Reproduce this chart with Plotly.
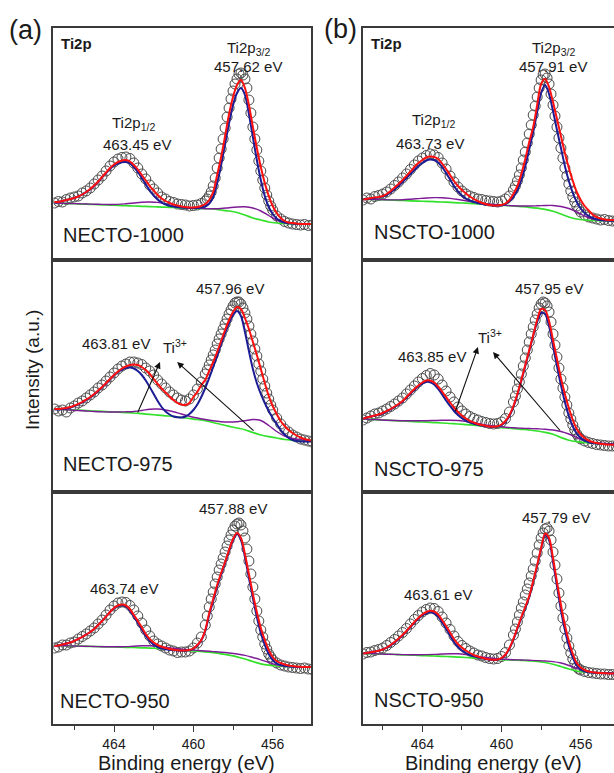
import plotly.graph_objects as go

# ---------------- data (heights in arbitrary intensity units) ----------------
energy_line = [467.0, 466.8, 466.6, 466.4, 466.2, 466.0, 465.8, 465.6, 465.4, 465.2,
               465.0, 464.8, 464.6, 464.4, 464.2, 464.0, 463.8, 463.6, 463.4, 463.2,
               463.0, 462.8, 462.6, 462.4, 462.2, 462.0, 461.8, 461.6, 461.4, 461.2,
               461.0, 460.8, 460.6, 460.4, 460.2, 460.0, 459.8, 459.6, 459.4, 459.2,
               459.0, 458.8, 458.6, 458.4, 458.2, 458.0, 457.8, 457.6, 457.4, 457.2,
               457.0, 456.8, 456.6, 456.4, 456.2, 456.0, 455.8, 455.6, 455.4, 455.2,
               455.0, 454.8, 454.6, 454.4, 454.2, 454.0]

energy_bg = [467.0, 466.6, 466.2, 465.8, 465.4, 465.0, 464.6, 464.2, 463.8, 463.4,
             463.0, 462.6, 462.2, 461.8, 461.4, 461.0, 460.6, 460.2, 459.8, 459.4,
             459.0, 458.6, 458.2, 457.8, 457.4, 457.0, 456.6, 456.2, 455.8, 455.4,
             455.0, 454.6, 454.2]

energy_data = [467.0, 466.8, 466.6, 466.4, 466.2, 466.0, 465.8, 465.6, 465.4, 465.2,
               465.0, 464.8, 464.6, 464.4, 464.2, 464.0, 463.8, 463.6, 463.4, 463.2,
               463.0, 462.8, 462.6, 462.4, 462.2, 462.0, 461.8, 461.6, 461.4, 461.2,
               461.0, 460.8, 460.6, 460.4, 460.2, 460.0, 459.8, 459.6,
               459.4, 459.3, 459.2, 459.1, 459.0, 458.9, 458.8, 458.7, 458.6, 458.5,
               458.4, 458.3, 458.2, 458.1, 458.0, 457.9, 457.8, 457.7, 457.6, 457.5,
               457.4, 457.3, 457.2, 457.1, 457.0, 456.9, 456.8, 456.7, 456.6, 456.5,
               456.4, 456.3, 456.2, 456.1, 456.0,
               455.8, 455.6, 455.4, 455.2, 455.0, 454.8, 454.6, 454.4, 454.2, 454.0]

x_major_ticks = [464, 460, 456]
x_minor_ticks = [466, 462, 458, 454]

# ---- NECTO-1000 ----
necto1000_data = [57, 58.5, 58, 60.5, 62, 63, 64, 67, 69, 72,
                  76, 80, 84, 89, 94, 98, 101, 102.5, 103, 101.5,
                  97, 92, 86, 81, 75, 71, 67, 63, 61, 58.5,
                  57.5, 56, 55.5, 55, 54, 54.5, 55, 56.5,
                  59, 61, 64, 68, 74, 82, 92, 102, 111, 121,
                  132, 143, 152, 161, 169, 176, 181, 186, 187, 185,
                  181, 172, 160, 147, 133, 121, 110, 99, 89, 80,
                  72, 65, 59, 54, 50,
                  44, 41, 38.5, 37, 36, 35.5, 35, 35.5, 34.5, 35]
necto1000_fit = [58, 58, 59, 60, 61, 62, 63.5, 65.5, 68, 71,
                 74.5, 78.5, 83, 87.5, 92, 95.5, 98, 99.5, 100, 98.5,
                 95, 90.5, 85, 79.5, 74, 69.5, 65, 61.5, 59, 57,
                 55.5, 54.5, 53.5, 53, 52.5, 52.5, 53, 54, 56, 60,
                 68, 85, 103, 124, 146, 163, 175, 180, 172, 155,
                 133, 112, 93, 77, 64, 54, 47, 42, 39, 37.5,
                 37, 36.5, 36, 36, 36, 36]
necto1000_ti4 = [57.5, 58, 59, 60, 61, 62, 63.5, 65.5, 68, 70.5,
                 74, 78, 82.5, 87, 91, 94.5, 96.5, 97.8, 98, 96.5,
                 93, 88, 82, 75.5, 69.5, 64.5, 60.5, 57.5, 55.5, 54.3,
                 53.5, 53, 52.5, 52.2, 52, 52, 52, 52.4, 53.5, 56.5,
                 63, 77, 95, 116, 137, 155, 167, 172, 165, 146,
                 123, 100, 80, 64, 53, 46, 41.5, 39, 37.5, 36.8,
                 36.5, 36.2, 36, 36, 36, 36]
necto1000_ti3 = [57, 56.8, 56.5, 56.2, 56, 55.8, 55.6, 55.5, 55.6, 56.2,
                 57, 57.8, 58, 57.6, 56, 54, 53, 52.3, 51.8, 51.3,
                 51.2, 51.5, 52.3, 53, 53.2, 52, 49, 44.5, 40, 37.5,
                 36.5, 36, 36]
necto1000_bg = [57, 56.7, 56.4, 56.1, 55.8, 55.5, 55.2, 54.9, 54.6, 54.3,
                54, 53.7, 53.4, 53.1, 52.8, 52.5, 52.2, 51.9, 51.6, 51.3,
                51, 50, 49, 47.5, 45, 42, 40, 38, 37, 36.5,
                36.2, 36, 36]

# ---- NECTO-975 ----
necto975_data = [83, 81, 82, 80, 84, 86, 89, 91, 94, 97,
                 100, 104, 107, 111, 115, 119, 123, 126, 128, 130,
                 130, 129, 127.5, 124, 121, 117, 112, 108, 104, 100,
                 97, 94, 92, 91, 93, 97, 103, 110,
                 118, 122, 127, 132, 137, 142, 148, 153, 158, 163,
                 168, 173, 178, 182, 186, 189, 190, 190, 188, 184,
                 179, 173, 166, 158, 151, 143, 136, 128, 121, 113,
                 106, 99, 93, 87, 82,
                 74, 68, 63, 60, 57, 55, 53, 52, 51, 50]
necto975_fit = [83, 83, 83.5, 84, 85, 86.5, 88, 90, 92.5, 95,
                98, 101.5, 105, 109, 113, 117, 120.5, 123.5, 125.5, 127,
                127.5, 127, 125, 122, 118, 113, 108, 103.5, 99.5, 95.5,
                92, 89, 87.5, 87, 89, 95, 100, 107, 112, 121,
                130, 140, 151, 162, 172, 180, 185, 183, 174, 163,
                150, 137, 123, 109, 96, 86, 78, 71, 66, 62,
                59, 56.5, 54.5, 53, 52, 51.5]
necto975_ti4 = [82.5, 82.5, 83, 83.5, 84.5, 86, 87.5, 89.5, 92, 94.5,
                97.5, 101, 104.5, 108.5, 112.5, 116.5, 120, 122.5, 124, 124.5,
                123.5, 121, 117, 111.5, 105, 98, 91, 85, 80.5, 77.5,
                75.5, 74.8, 74.6, 75.5, 78, 82, 87.5, 95, 104, 114,
                125, 136, 148, 159, 169, 177, 181, 176, 160, 141,
                123, 109, 98, 89, 81, 74, 68, 62, 57.5, 54,
                52, 51, 50.5, 50.5, 50.5, 50.5]
necto975_ti3 = [83, 82.5, 82, 81.5, 81, 80.5, 80.2, 80, 80, 80.2,
                80.5, 81.5, 82.8, 83, 82, 80.3, 78, 75.8, 74, 72.5,
                71.2, 70.3, 70, 70.3, 71.2, 72.5, 71.5, 66.5, 60.5, 56,
                53.5, 52.3, 51.8]
necto975_bg = [83, 82.6, 82.2, 81.8, 81.4, 81, 80.6, 80.2, 79.8, 79.4,
               79, 78.3, 77.6, 76.9, 76.2, 75.5, 74.5, 73.5, 72.5, 71.3,
               69.5, 67.5, 65.7, 64, 62.3, 59.5, 57, 55.3, 54, 52.5,
               51.7, 51.2, 51]

# ---- NECTO-950 ----
necto950_data = [76, 77, 79, 79, 81, 82, 85, 87.5, 90, 93,
                 96, 100, 104, 109, 114, 118, 121, 122, 121.5, 118.5,
                 114, 108, 101, 94, 88, 83, 80, 78, 76, 74,
                 73, 71.5, 72, 72, 73, 76, 81, 87,
                 99, 108, 117, 125, 132, 140, 147, 154, 160, 166,
                 172, 178, 184, 189, 194, 198, 200, 201, 199, 193,
                 186, 175, 163, 150, 137, 125, 113, 103, 94, 87,
                 80, 75, 70, 67, 64,
                 61, 59, 58, 57, 56.5, 56, 55.5, 56, 55, 54.5]
necto950_fit = [78, 78.5, 79.5, 80.5, 81.5, 83, 85, 87, 89.5, 92,
                95, 99, 103, 107.5, 112, 116, 118.5, 119.5, 118.5, 115,
                109, 103, 96.5, 90, 85, 81.5, 79, 77.2, 76, 75,
                74.3, 73.8, 73.5, 73.5, 74, 75.5, 79, 84, 94, 111,
                125, 139, 151, 162, 174, 185, 191, 186, 170, 150,
                130, 112, 96, 84, 74, 67, 63, 61, 59.5, 58.5,
                58, 57.5, 57.2, 57, 57, 57]
necto950_ti4 = [78, 78.5, 79.5, 80.5, 81.5, 83, 85, 87, 89.5, 92,
                95, 99, 103, 107.5, 112, 115.5, 118, 118.8, 117.5, 113.5,
                107.5, 101, 94.5, 88, 83, 79.5, 77, 75.5, 74.8, 74.3,
                73.9, 73.6, 73.3, 73.3, 73.8, 75.2, 78.5, 83.5, 93, 109,
                123, 137, 149.5, 161, 173, 184, 190, 184, 167, 146,
                126, 107, 91, 79, 70, 64, 60.5, 59, 58, 57.6,
                57.3, 57.1, 57, 57, 57, 57]
necto950_ti3 = [78.5, 78.3, 78.1, 77.9, 77.7, 77.5, 77.3, 77.2, 77.2, 77.4,
                77.8, 78.2, 78.3, 77.8, 76.8, 75.7, 74.9, 74.2, 73.6, 73,
                72.4, 71.8, 71, 70, 68.6, 66.5, 64.2, 61.5, 59.2, 58,
                57.5, 57.2, 57]
necto950_bg = [78.5, 78.3, 78.1, 77.9, 77.7, 77.5, 77.3, 77.1, 76.9, 76.7,
               76.5, 76.2, 75.9, 75.5, 75, 74.5, 74, 73.4, 72.8, 72.2,
               71.3, 70.2, 68.8, 67.2, 65, 62.5, 60.2, 58.8, 58, 57.6,
               57.4, 57.2, 57]

# ---- NSCTO-1000 ----
nscto1000_data = [60, 62, 61, 63.5, 64.5, 66, 68, 71, 74.5, 78,
                  82, 86, 90.5, 95, 99, 102, 104.5, 106, 105, 102.5,
                  97, 91, 84, 78, 73, 69, 66, 64, 62.5, 61,
                  60.5, 59.5, 59, 58.5, 58, 59, 61, 64,
                  70, 74, 79, 85, 92, 100, 108, 117, 126, 135,
                  145, 154, 163, 172, 180, 185, 186, 182, 176, 166,
                  155, 144, 133, 122, 112, 102, 92, 84, 76, 69,
                  63, 58, 54, 51, 48,
                  45, 43, 42, 41, 40, 40.5, 39.5, 39, 39, 39]
nscto1000_fit = [60.5, 61, 62, 62.5, 63, 64, 66, 69, 72.5, 76,
                 80, 84, 88.5, 93, 97, 100, 102.5, 103.5, 103, 101,
                 96.5, 91, 85, 79, 74, 70, 66.5, 63.5, 61, 59,
                 57.3, 56, 55, 54.5, 54.5, 55, 56.5, 60, 66, 74,
                 86, 101, 118, 133, 155, 176, 181, 173, 158, 141,
                 124, 107, 92, 79, 68, 60, 54, 49.5, 45.5, 43,
                 41.5, 40.5, 40, 40, 40, 40]
nscto1000_ti4 = [60.5, 61, 61.5, 62, 62.5, 63.5, 65, 67.5, 70.5, 74,
                 78, 82, 86, 90, 94, 97, 99.5, 100.5, 100, 97.5,
                 93, 87, 80.5, 74, 68.5, 64.5, 61.5, 59.5, 58, 57,
                 56.2, 55.6, 55, 54.6, 54.4, 54.6, 55.8, 58.5, 63, 70,
                 80, 94, 111, 128, 148, 167, 175, 166, 149, 130,
                 112, 94, 79, 67, 58, 51.5, 47, 44, 42, 40.8,
                 40, 39.6, 39.4, 39.3, 39.2, 39.2]
nscto1000_ti3 = [61, 60.7, 60.4, 60.2, 60.1, 60.3, 60.8, 61.4, 62, 62.4,
                 62.3, 61.6, 60.5, 59.2, 58, 57, 56, 55.2, 54.6, 54.2,
                 54, 54, 54.2, 54.5, 54.5, 53.5, 51.5, 48, 44, 41,
                 39.7, 39.3, 39.2]
nscto1000_bg = [61, 60.7, 60.4, 60.1, 59.8, 59.5, 59.2, 58.9, 58.6, 58.3,
                58, 57.6, 57.2, 56.8, 56.4, 56, 55.5, 55, 54.5, 54,
                53.4, 52.7, 51.8, 50.6, 48.8, 46, 43, 41, 40, 39.5,
                39.3, 39.2, 39.2]

# ---- NSCTO-975 ----
nscto975_data = [72, 74, 76, 78, 79, 81, 83, 85.5, 88, 91,
                 94, 98, 102, 106, 110, 113.5, 116.5, 118.5, 117, 113,
                 107, 101, 95, 90, 85, 81, 78, 75.5, 73.5, 72,
                 70.5, 69.5, 68.5, 68, 68.5, 70, 73.5, 80,
                 90, 96, 103, 110, 118, 126, 134, 142, 150, 158,
                 165, 172, 178, 184, 188, 190, 189, 186, 180, 170,
                 158, 147, 135, 124, 113, 104, 95, 87, 79, 73,
                 67, 62, 58, 55, 53,
                 51, 49.5, 48.5, 47.5, 47, 46.5, 46, 46, 45.5, 45.5]
nscto975_fit = [73.5, 74.5, 75.5, 76.5, 77.5, 79, 81, 83, 85.5, 88,
                91, 95, 99, 103, 106.5, 109.5, 111.5, 111.5, 109.5, 105.5,
                100.5, 95, 89.5, 84.5, 80, 76.5, 73.5, 71, 69.5, 68,
                67, 66.2, 65.5, 65.3, 65.8, 67.5, 71, 77, 86, 98,
                112, 127, 142, 157, 172, 183, 182, 171, 152, 133,
                114, 98, 84, 72, 63, 57.5, 54, 51.5, 50, 49,
                48.3, 47.8, 47.5, 47.3, 47.2, 47.2]
nscto975_ti4 = [73.5, 74.5, 75.5, 76.3, 77.2, 78.5, 80.5, 82.5, 85, 87.5,
                90.5, 94.3, 98.2, 102, 105.5, 108.3, 110, 109.8, 107.5, 103,
                97.5, 91.5, 86, 81, 77, 73.8, 71.3, 69.5, 68.2, 67.2,
                66.5, 65.8, 65.2, 65, 65.5, 67, 70.3, 76, 85, 97,
                111, 126, 141, 156, 170, 179, 178, 166, 146, 126,
                107, 90, 76, 65.5, 58.5, 54, 51.3, 49.8, 49, 48.5,
                48.2, 48, 47.8, 47.6, 47.5, 47.5]
nscto975_ti3 = [73, 72.6, 72.2, 71.8, 71.5, 71.3, 71.2, 71.2, 71.3, 71.5,
                71.7, 71.8, 71.5, 70.5, 69.2, 67.8, 66.5, 65.5, 64.8, 64.2,
                63.8, 63.5, 63.2, 62.8, 62, 60.5, 58, 54.5, 51.5, 49.6,
                48.7, 48.2, 48]
nscto975_bg = [73, 72.6, 72.2, 71.8, 71.4, 71, 70.6, 70.2, 69.8, 69.4,
               69, 68.5, 68, 67.4, 66.8, 66.2, 65.5, 64.8, 64.1, 63.4,
               62.7, 62, 61, 59.7, 57.8, 54.5, 51.8, 50.3, 49.5, 48.8,
               48.4, 48.1, 48]

# ---- NSCTO-950 ----
nscto950_data = [70, 71.5, 72, 73.5, 74.5, 76, 78.5, 81.5, 84.5, 88,
                 91.5, 95.5, 100, 104.5, 108.5, 112, 114.5, 116, 115.5, 112.5,
                 107, 101, 94.5, 88, 82.5, 78.5, 75.5, 73, 71, 69,
                 68, 66.5, 65.5, 65, 65.5, 67.5, 71.5, 79,
                 89, 95, 102, 109, 116, 122, 129, 135, 141, 148,
                 155, 163, 171, 179, 186, 191, 195, 196, 193, 184,
                 172, 159, 145, 131, 118, 106, 95, 86, 78, 71,
                 65, 61, 57, 55, 54,
                 52.5, 51.5, 51, 50.5, 50, 50, 49.5, 49.5, 49, 49]
nscto950_fit = [70.5, 71, 71.8, 72.5, 73.3, 74.5, 76.5, 79, 82, 85.5,
                89, 93, 97.5, 102, 106, 109.5, 112, 113.3, 112.5, 109.5,
                104, 98, 91.5, 85, 80, 76.5, 73.5, 71, 69, 67.5,
                66.3, 65.3, 64.5, 64.2, 64.5, 66, 69.5, 76, 85, 96,
                107, 117, 128, 143, 159, 176, 190.5, 186, 166, 142,
                119, 99, 83, 70, 61, 56.5, 54, 52.5, 51.8, 51.3,
                51, 50.8, 50.6, 50.5, 50.5, 50.5]
nscto950_ti4 = [70.5, 71, 71.8, 72.5, 73.3, 74.5, 76.3, 78.7, 81.6, 85,
                88.5, 92.5, 97, 101.3, 105.3, 108.5, 110.8, 111.8, 110.7, 107.3,
                101.5, 95.3, 88.5, 82, 77, 73.5, 71, 69, 67.6, 66.5,
                65.7, 65, 64.3, 64, 64.3, 65.7, 69, 75.3, 84.3, 95.3,
                106, 116, 127, 142, 158, 175, 189, 184, 162, 138,
                114, 94, 78, 66.5, 58.5, 54.5, 52.5, 51.7, 51.2, 51,
                50.9, 50.8, 50.7, 50.6, 50.5, 50.5]
nscto950_ti3 = [70.7, 70.4, 70.1, 69.8, 69.6, 69.4, 69.3, 69.3, 69.4, 69.6,
                70, 70.3, 70.2, 69.4, 68.2, 67, 66, 65.2, 64.7, 64.3,
                64, 63.7, 63.4, 63, 62.4, 61, 58.5, 55.5, 53, 51.8,
                51.3, 51.1, 51]
nscto950_bg = [70.7, 70.4, 70.1, 69.8, 69.5, 69.2, 68.9, 68.6, 68.3, 68,
               67.7, 67.3, 66.9, 66.5, 66, 65.5, 65, 64.5, 64.2, 63.9,
               63.6, 63.2, 62.6, 61.5, 59.8, 57.5, 55, 53, 52, 51.4,
               51.1, 51, 51]

sample_names = ["NECTO-1000", "NECTO-975", "NECTO-950",
                "NSCTO-1000", "NSCTO-975", "NSCTO-950"]
peak_32_labels = ["457.62 eV", "457.96 eV", "457.88 eV",
                  "457.91 eV", "457.95 eV", "457.79 eV"]
peak_12_labels = ["463.45 eV", "463.81 eV", "463.74 eV",
                  "463.73 eV", "463.85 eV", "463.61 eV"]

series = [
    (necto1000_data, necto1000_fit, necto1000_ti4, necto1000_ti3, necto1000_bg),
    (necto975_data, necto975_fit, necto975_ti4, necto975_ti3, necto975_bg),
    (necto950_data, necto950_fit, necto950_ti4, necto950_ti3, necto950_bg),
    (nscto1000_data, nscto1000_fit, nscto1000_ti4, nscto1000_ti3, nscto1000_bg),
    (nscto975_data, nscto975_fit, nscto975_ti4, nscto975_ti3, nscto975_bg),
    (nscto950_data, nscto950_fit, nscto950_ti4, nscto950_ti3, nscto950_bg),
]
for s in series:
    assert len(s[0]) == len(energy_data), len(s[0])
    assert len(s[1]) == len(energy_line) and len(s[2]) == len(energy_line), (len(s[1]), len(s[2]))
    assert len(s[3]) == len(energy_bg) and len(s[4]) == len(energy_bg), (len(s[3]), len(s[4]))

# ---------------- layout geometry ----------------
W, H = 614, 773
FONT = "Arial, 'Liberation Sans', Helvetica, sans-serif"
AX = "#3a3a3a"
TXT = "#1a1a1a"


def px(x):
    return x / W


def py(y):
    return 1 - y / H


col_domains = [[px(53.3), px(311.0)], [px(363.3), 1.0]]
col_ranges = [[467.06, 454.07], [466.98, 454.32]]
row_domains = [[py(260), py(28)], [py(492), py(260)], [py(724), py(492)]]

fig = go.Figure()
layout = dict(
    width=W, height=H,
    margin=dict(l=0, r=0, t=0, b=0),
    paper_bgcolor="white", plot_bgcolor="white",
    showlegend=False,
    font=dict(family=FONT, color=TXT),
)

for k in range(6):
    col, row = divmod(k, 3)
    idx = k + 1
    xname = "x" if idx == 1 else f"x{idx}"
    yname = "y" if idx == 1 else f"y{idx}"
    data, fit, ti4, ti3, bg = series[k]
    common = dict(xaxis=xname, yaxis=yname, hoverinfo="skip", showlegend=False)
    fig.add_trace(go.Scatter(x=energy_data, y=data, mode="markers",
                             marker=dict(symbol="circle-open", size=10, color="#4a4a4a",
                                         line=dict(width=1)), **common))
    fig.add_trace(go.Scatter(x=energy_bg, y=bg, mode="lines",
                             line=dict(color="#33e02b", width=1.7, shape="spline"), **common))
    fig.add_trace(go.Scatter(x=energy_bg, y=ti3, mode="lines",
                             line=dict(color="#7d1a96", width=1.4, shape="spline"), **common))
    fig.add_trace(go.Scatter(x=energy_line, y=ti4, mode="lines",
                             line=dict(color="#1c1c94", width=2, shape="spline", smoothing=0.8), **common))
    fig.add_trace(go.Scatter(x=energy_line, y=fit, mode="lines",
                             line=dict(color="#ff1010", width=2, shape="spline", smoothing=0.8), **common))

    bottom = (row == 2)
    xa = dict(domain=col_domains[col], range=col_ranges[col], anchor=yname,
              showline=True, linecolor=AX, linewidth=1.5, mirror=True,
              showgrid=False, zeroline=False)
    if bottom:
        xa.update(ticks="outside", tickvals=x_major_ticks, ticklen=6, tickwidth=1.3,
                  tickcolor=AX, showticklabels=True,
                  tickfont=dict(size=14, family=FONT, color=TXT),
                  minor=dict(tickvals=x_minor_ticks, ticks="outside", ticklen=4,
                             tickwidth=1.3, tickcolor=AX, showgrid=False))
    else:
        xa.update(ticks="", showticklabels=False)
    ya = dict(domain=row_domains[row], range=[0, 232], anchor=xname,
              showline=True, linecolor=AX, linewidth=1.5, mirror=(col == 0),
              ticks="", showticklabels=False, showgrid=False, zeroline=False)
    layout["xaxis" if idx == 1 else f"xaxis{idx}"] = xa
    layout["yaxis" if idx == 1 else f"yaxis{idx}"] = ya

fig.update_layout(**layout)

annotations = []


def txt(text, x, y, size, xanchor="center", **kw):
    annotations.append(dict(text=text, x=px(x), y=py(y), xref="paper", yref="paper",
                            xanchor=xanchor, yanchor="middle", showarrow=False,
                            font=dict(size=size, family=FONT, color=TXT), **kw))


# panel letters / axis titles
txt("(a)", 25, 30, 27)
txt("(b)", 340, 29, 27)
txt("Intensity (a.u.)", 33, 370, 19, textangle=-90)
txt("Binding energy (eV)", 186, 763, 20)
txt("Binding energy (eV)", 493, 763, 20)
txt("<b>Ti2p</b>", 59, 44, 15, xanchor="left")
txt("<b>Ti2p</b>", 369, 44, 15, xanchor="left")

# column (a)
txt("Ti2p<sub>3/2</sub>", 248, 48, 15)
txt(peak_32_labels[0], 248, 66, 15)
txt("Ti2p<sub>1/2</sub>", 133, 123, 15)
txt(peak_12_labels[0], 137, 144, 15)
txt(sample_names[0], 61, 235, 20, xanchor="left")

txt(peak_32_labels[1], 230, 288, 15)
txt(peak_12_labels[1], 116, 343, 15)
txt("Ti<sup>3+</sup>", 175, 346, 15)
txt(sample_names[1], 61, 464, 20, xanchor="left")

txt(peak_32_labels[2], 233, 508, 15)
txt(peak_12_labels[2], 124, 588, 15)
txt(sample_names[2], 58, 701, 20, xanchor="left")

# column (b)
txt("Ti2p<sub>3/2</sub>", 553, 48, 15)
txt(peak_32_labels[3], 553, 66, 15)
txt("Ti2p<sub>1/2</sub>", 433, 121, 15)
txt(peak_12_labels[3], 430, 143, 15)
txt(sample_names[3], 372, 232, 20, xanchor="left")

txt(peak_32_labels[4], 549, 288, 15)
txt(peak_12_labels[4], 432, 357, 15)
txt("Ti<sup>3+</sup>", 490, 336, 15)
txt(sample_names[4], 372, 469, 20, xanchor="left")

txt(peak_32_labels[5], 556, 517, 15)
txt(peak_12_labels[5], 438, 594, 15)
txt(sample_names[5], 372, 700, 20, xanchor="left")

# Ti3+ arrows (head, tail) in data coordinates
arrows = [
    ("x2", "y2", 461.68, 130, 462.84, 78),
    ("x2", "y2", 460.82, 130, 456.89, 60),
    ("x5", "y5", 461.19, 145, 462.36, 79),
    ("x5", "y5", 460.43, 140, 456.98, 60),
]
for xr, yr, hx, hy, tx, ty in arrows:
    annotations.append(dict(x=hx, y=hy, ax=tx, ay=ty, xref=xr, yref=yr, axref=xr, ayref=yr,
                            text="", showarrow=True, arrowhead=2, arrowsize=1.2,
                            arrowwidth=1.1, arrowcolor="#111111", standoff=0))

fig.update_layout(annotations=annotations)
fig.write_html("out.html", config={"displayModeBar": False})
